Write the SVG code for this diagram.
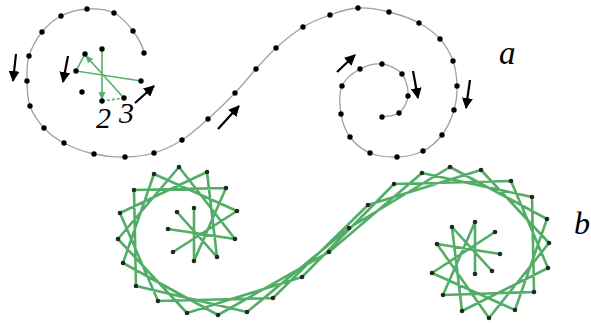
<svg xmlns="http://www.w3.org/2000/svg" width="591" height="323" viewBox="0 0 591 323">
<defs>
<style>
.curve{fill:none;stroke:#a0a0a0;stroke-width:1.3}
.blk{fill:none;stroke:#000;stroke-width:2.2;marker-end:url(#ah)}
.gr{fill:none;stroke:#55b06a;stroke-width:1.6}
.gra{fill:none;stroke:#55b06a;stroke-width:1.6;marker-end:url(#gh)}
.str{fill:none;stroke:#52ad66;stroke-width:2.6;stroke-linecap:round;stroke-linejoin:round}
.da circle{fill:#000}
.db circle{fill:#1e2a22}
.lbl{font-family:"Liberation Serif","Times New Roman",serif;font-style:italic;fill:#000}
</style>
<marker id="ah" markerUnits="userSpaceOnUse" markerWidth="11" markerHeight="11" refX="10" refY="5.5" orient="auto"><path d="M0,0 L11,5.5 L0,11 z" fill="#000"/></marker>
<marker id="gh" markerUnits="userSpaceOnUse" markerWidth="8" markerHeight="7" refX="7" refY="3.5" orient="auto"><path d="M0,0 L8,3.5 L0,7 z" fill="#55b06a"/></marker>
</defs>
<rect width="591" height="323" fill="#fff"/>

<g id="curve-a">
<path class="curve" d="M144,53 C142.7,44.7 138,37.7 133,31 C128,24.3 121.7,16.7 114,13 C106.3,9.3 95.8,8.5 87,9 C78.2,9.5 68.5,12.2 61,16 C53.5,19.8 47.3,25.3 42,32 C36.7,38.7 31.5,47.8 29,56 C26.5,64.2 26.8,72.7 27,81 C27.2,89.3 27.2,98.2 30,106 C32.8,113.8 38.3,121.8 44,128 C49.7,134.2 55.7,138.7 64,143 C72.3,147.3 83.8,151.7 94,154 C104.2,156.3 115,157.2 125,157 C135,156.8 144.5,155.8 154,153 C163.5,150.2 173,145.7 182,140 C191,134.3 199.2,126.8 208,119 C216.8,111.2 227,101.3 235,93 C243,84.7 249.2,76.5 256,69 C262.8,61.5 268.2,55 276,48 C283.8,41 294,32.5 303,27 C312,21.5 320.8,18.2 330,15 C339.2,11.8 348.2,8.5 358,8 C367.8,7.5 378.8,9.5 389,12 C399.2,14.5 410.5,18.5 419,23 C427.5,27.5 434.3,32.7 440,39 C445.7,45.3 450.2,53.2 453,61 C455.8,68.8 456.8,77.8 457,86 C457.2,94.2 456.5,101.8 454,110 C451.5,118.2 447.2,128.2 442,135 C436.8,141.8 430.5,147.3 423,151 C415.5,154.7 405.8,156.7 397,157 C388.2,157.3 377.8,156.3 370,153 C362.2,149.7 354.8,143.5 350,137 C345.2,130.5 342.3,122.5 341,114 C339.7,105.5 338.8,93.5 342,86 C345.2,78.5 353.3,72.7 360,69 C366.7,65.3 375,63.2 382,64 C389,64.8 397.7,68.7 402,74 C406.3,79.3 408.5,89.5 408,96 C407.5,102.5 403.3,109.5 399,113 C394.7,116.5 387.7,115.7 382,117"/>
</g>

<g id="green-path-a">
<path class="gra" d="M102,51 L102,99"/>
<path class="gra" d="M123,97 L86,56"/>
<path class="gr" d="M85,54 L76,71 L141,81"/>
<path class="gr" stroke-dasharray="3,2" d="M102,101 L124,98"/>
</g>

<g id="dots-a" class="da">
<circle cx="102" cy="49" r="2.7"/><circle cx="85" cy="54" r="2.7"/><circle cx="76" cy="71" r="2.7"/><circle cx="82" cy="92" r="2.7"/><circle cx="102" cy="101" r="2.7"/><circle cx="124" cy="98" r="2.7"/><circle cx="141" cy="81" r="2.7"/>
<circle cx="144" cy="53" r="2.7"/><circle cx="133" cy="31" r="2.7"/><circle cx="114" cy="13" r="2.7"/><circle cx="87" cy="9" r="2.7"/><circle cx="61" cy="16" r="2.7"/><circle cx="42" cy="32" r="2.7"/><circle cx="29" cy="56" r="2.7"/><circle cx="27" cy="81" r="2.7"/><circle cx="30" cy="106" r="2.7"/><circle cx="44" cy="128" r="2.7"/><circle cx="64" cy="143" r="2.7"/><circle cx="94" cy="154" r="2.7"/><circle cx="125" cy="157" r="2.7"/><circle cx="154" cy="153" r="2.7"/><circle cx="182" cy="140" r="2.7"/><circle cx="208" cy="119" r="2.7"/><circle cx="235" cy="93" r="2.7"/><circle cx="256" cy="69" r="2.7"/><circle cx="276" cy="48" r="2.7"/><circle cx="303" cy="27" r="2.7"/><circle cx="330" cy="15" r="2.7"/><circle cx="358" cy="8" r="2.7"/><circle cx="389" cy="12" r="2.7"/><circle cx="419" cy="23" r="2.7"/><circle cx="440" cy="39" r="2.7"/><circle cx="453" cy="61" r="2.7"/><circle cx="457" cy="86" r="2.7"/><circle cx="454" cy="110" r="2.7"/><circle cx="442" cy="135" r="2.7"/><circle cx="423" cy="151" r="2.7"/><circle cx="397" cy="157" r="2.7"/><circle cx="370" cy="153" r="2.7"/><circle cx="350" cy="137" r="2.7"/><circle cx="341" cy="114" r="2.7"/><circle cx="342" cy="86" r="2.7"/><circle cx="360" cy="69" r="2.7"/><circle cx="382" cy="64" r="2.7"/><circle cx="402" cy="74" r="2.7"/><circle cx="408" cy="96" r="2.7"/><circle cx="399" cy="113" r="2.7"/><circle cx="382" cy="117" r="2.7"/>
</g>

<g id="arrows-a">
<path class="blk" d="M16,54 L13,81"/>
<path class="blk" d="M68,56 L63,82"/>
<path class="blk" d="M135,103 L154,86"/>
<path class="blk" d="M218,129 L239,106"/>
<path class="blk" d="M337,72 L355,55"/>
<path class="blk" d="M413,71 L418,98"/>
<path class="blk" d="M470,80 L466,108"/>
</g>

<g id="labels">
<text class="lbl" x="96" y="128" font-size="30">2</text>
<text class="lbl" x="119" y="123" font-size="30">3</text>
<text class="lbl" x="499" y="64" font-size="33">a</text>
<text class="lbl" x="574" y="234" font-size="32">b</text>
</g>

<g id="strings-b">
<path class="str" d="M194,208 L194,261 M177,212 L217,257 M168,229 L235,239 M173,252 L237,211 M194,261 L226,188 M217,257 L207,172 M235,239 L179,167 M237,211 L154,174 M226,188 L134,190 M207,172 L120,213 M179,167 L118,239 M154,174 L123,263 M134,190 L136,286 M120,213 L158,301 M118,239 L187,313 M123,263 L218,315 M136,286 L247,312 M158,301 L273,298 M187,313 L302,277 M218,315 L329,252 M247,312 L349,228 M273,298 L368,205 M302,277 L394,184 M329,252 L422,173 M349,228 L450,167 M368,205 L481,170 M394,184 L511,181 M422,173 L532,197 M450,167 L547,219 M481,170 L549,243 M511,181 L548,268 M532,197 L534,292 M547,219 L515,310 M549,243 L489,318 M548,268 L462,311 M534,292 L443,295 M515,310 L432,273 M489,318 L437,244 M462,311 L452,227 M443,295 L475,222 M432,273 L495,232 M437,244 L500,254 M452,227 L492,271 M475,222 L475,274"/>
</g>

<g id="dots-b" class="db">
<circle cx="194" cy="208" r="2.3"/><circle cx="177" cy="212" r="2.3"/><circle cx="168" cy="229" r="2.3"/><circle cx="173" cy="252" r="2.3"/><circle cx="194" cy="261" r="2.3"/><circle cx="217" cy="257" r="2.3"/><circle cx="235" cy="239" r="2.3"/><circle cx="237" cy="211" r="2.3"/><circle cx="226" cy="188" r="2.3"/><circle cx="207" cy="172" r="2.3"/><circle cx="179" cy="167" r="2.3"/><circle cx="154" cy="174" r="2.3"/><circle cx="134" cy="190" r="2.3"/><circle cx="120" cy="213" r="2.3"/><circle cx="118" cy="239" r="2.3"/><circle cx="123" cy="263" r="2.3"/><circle cx="136" cy="286" r="2.3"/><circle cx="158" cy="301" r="2.3"/><circle cx="187" cy="313" r="2.3"/><circle cx="218" cy="315" r="2.3"/><circle cx="247" cy="312" r="2.3"/><circle cx="273" cy="298" r="2.3"/><circle cx="302" cy="277" r="2.3"/><circle cx="329" cy="252" r="2.3"/><circle cx="349" cy="228" r="2.3"/><circle cx="368" cy="205" r="2.3"/><circle cx="394" cy="184" r="2.3"/><circle cx="422" cy="173" r="2.3"/><circle cx="450" cy="167" r="2.3"/><circle cx="481" cy="170" r="2.3"/><circle cx="511" cy="181" r="2.3"/><circle cx="532" cy="197" r="2.3"/><circle cx="547" cy="219" r="2.3"/><circle cx="549" cy="243" r="2.3"/><circle cx="548" cy="268" r="2.3"/><circle cx="534" cy="292" r="2.3"/><circle cx="515" cy="310" r="2.3"/><circle cx="489" cy="318" r="2.3"/><circle cx="462" cy="311" r="2.3"/><circle cx="443" cy="295" r="2.3"/><circle cx="432" cy="273" r="2.3"/><circle cx="437" cy="244" r="2.3"/><circle cx="452" cy="227" r="2.3"/><circle cx="475" cy="222" r="2.3"/><circle cx="495" cy="232" r="2.3"/><circle cx="500" cy="254" r="2.3"/><circle cx="492" cy="271" r="2.3"/><circle cx="475" cy="274" r="2.3"/>
</g>
</svg>
